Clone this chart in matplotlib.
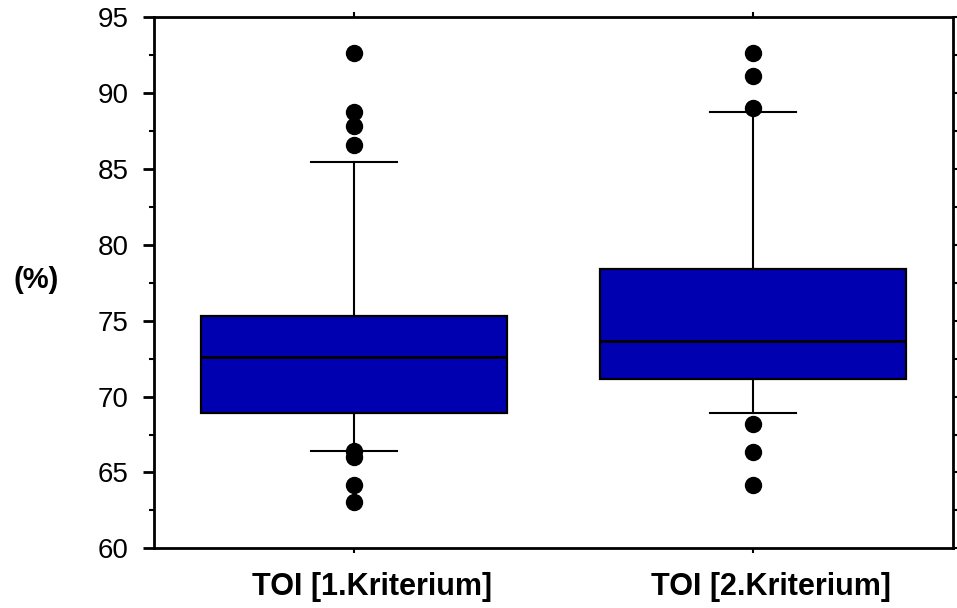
import matplotlib
matplotlib.use("Agg")
import matplotlib.pyplot as plt
from matplotlib.ticker import MultipleLocator
from matplotlib.transforms import ScaledTranslation

plt.rcParams['font.family'] = ['Liberation Sans', 'DejaVu Sans']

# ---- data ----
categories = ["TOI [1.Kriterium]", "TOI [2.Kriterium]"]
medians = [72.59, 73.68]
q1 = [68.94, 71.16]
q3 = [75.33, 78.39]
whisker_low = [66.39, 68.92]
whisker_high = [85.48, 88.78]
fliers_1 = [92.63, 88.78, 87.86, 86.58, 66.43, 66.0, 64.17, 63.07]
fliers_2 = [92.63, 91.13, 89.0, 68.19, 66.37, 64.17]
fliers = [fliers_1, fliers_2]
y_label = "(%)"
y_ticks = [60, 65, 70, 75, 80, 85, 90, 95]

fig = plt.figure(figsize=(9.57, 6.08), dpi=100)
ax = fig.add_axes([0.1612, 0.0982, 0.9955 - 0.1612, 0.9715 - 0.0982])

stats = []
for i, name in enumerate(categories):
    stats.append(dict(label=name, med=medians[i], q1=q1[i], q3=q3[i],
                      whislo=whisker_low[i], whishi=whisker_high[i],
                      fliers=fliers[i]))

positions = list(range(1, len(categories) + 1))
ax.bxp(stats, positions=positions, widths=0.767, capwidths=0.215,
       patch_artist=True, showfliers=True,
       boxprops=dict(facecolor='#0000B0', edgecolor='black', linewidth=1.6),
       medianprops=dict(color='black', linewidth=2.0),
       whiskerprops=dict(color='black', linewidth=1.5),
       capprops=dict(color='black', linewidth=1.5),
       flierprops=dict(marker='o', markerfacecolor='black',
                       markeredgecolor='black', markersize=11.5))

ax.set_xlim(0.5, 2.5)
ax.set_ylim(60, 95)
for s in ax.spines.values():
    s.set_linewidth(2.0)

ax.set_yticks(y_ticks)
ax.yaxis.set_minor_locator(MultipleLocator(2.5))
ax.tick_params(axis='y', which='major', direction='out', length=8, width=2.0,
               labelsize=20, pad=10.5, right=False)
ax.tick_params(axis='y', which='minor', direction='out', length=3.6, width=1.5,
               right=False)

ax.set_xticks(positions)
ax.set_xticklabels([])
ax.tick_params(axis='x', which='major', direction='out', length=3.5, width=1.5,
               top=True, bottom=True)

# right side ticks (short, same length for major & minor)
ax2 = ax.twinx()
ax2.set_ylim(60, 95)
ax2.set_yticks(y_ticks)
ax2.set_yticklabels([])
ax2.yaxis.set_minor_locator(MultipleLocator(2.5))
ax2.tick_params(axis='y', which='both', direction='out', length=3.2, width=1.5)
for s in ax2.spines.values():
    s.set_visible(False)

# category labels
offset = ScaledTranslation(18 / 100, 0, fig.dpi_scale_trans)
for pos, name in zip(positions, categories):
    ax.text(pos, -0.045, name, transform=ax.get_xaxis_transform() + offset,
            ha='center', va='top', fontsize=22, fontweight='bold')

ax.set_ylabel(y_label, rotation=0, fontsize=21, fontweight='bold',
              ha='center', va='center')
ax.yaxis.set_label_coords(-0.148, 0.505)

fig.savefig("out.png", dpi=100)
